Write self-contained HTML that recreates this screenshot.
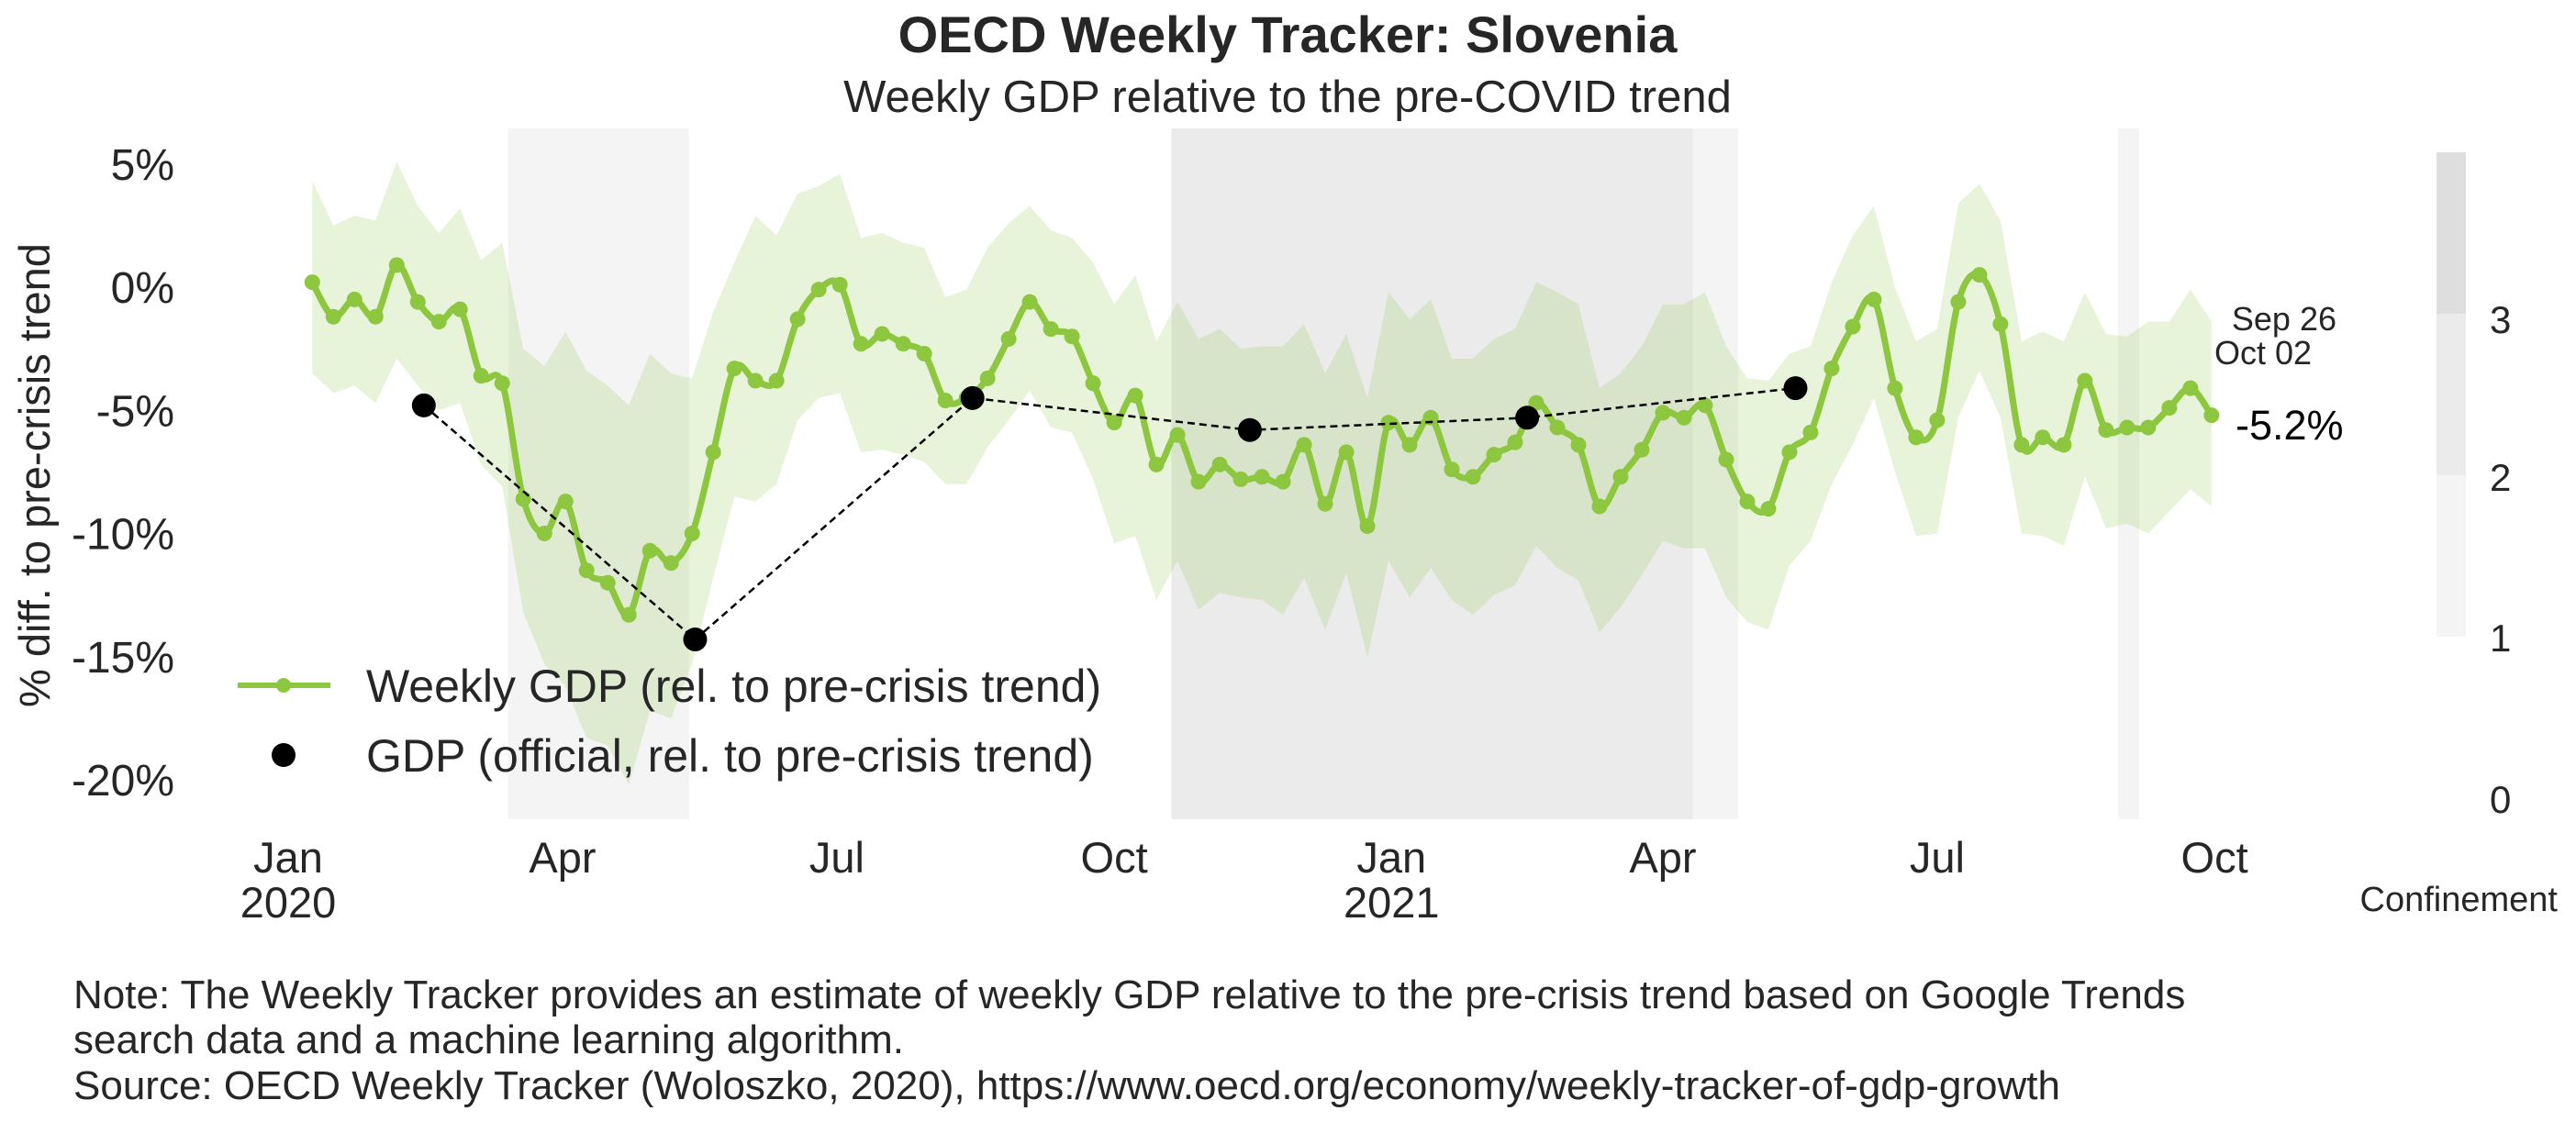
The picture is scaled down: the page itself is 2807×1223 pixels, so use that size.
<!DOCTYPE html>
<html><head><meta charset="utf-8"><style>
html,body{margin:0;padding:0;background:#fff;}
svg{display:block;font-family:"Liberation Sans",Arial,sans-serif;}
</style></head><body>
<svg id="chart" width="2807" height="1223" viewBox="0 0 2807 1223" xmlns="http://www.w3.org/2000/svg">
<g id="bg"></g>
<g id="band"></g>
<g id="lines"></g>
<g id="axes"></g>
<text x="1403" y="57" text-anchor="middle" font-size="56" font-weight="bold" fill="#262626">OECD Weekly Tracker: Slovenia</text>
<text x="1403" y="122" text-anchor="middle" font-size="49" fill="#262626">Weekly GDP relative to the pre-COVID trend</text>
<text transform="translate(54,518) rotate(-90)" text-anchor="middle" font-size="47" fill="#262626">% diff. to pre-crisis trend</text>
<g>
<g>
<line x1="259" y1="747" x2="360" y2="747" stroke="#8dc63f" stroke-width="6"/>
<circle cx="309" cy="747" r="8" fill="#8dc63f"/>
<text x="399" y="765" font-size="50" fill="#262626">Weekly GDP (rel. to pre-crisis trend)</text>
</g>
<g>
<circle cx="309" cy="823" r="13" fill="#000"/>
<text x="399" y="841" font-size="50" fill="#262626">GDP (official, rel. to pre-crisis trend)</text>
</g>
</g>
<text x="2546" y="360" text-anchor="end" font-size="36" fill="#262626">Sep 26</text>
<text x="2519" y="397" text-anchor="end" font-size="36" fill="#262626">Oct 02</text>
<text x="2436" y="479" font-size="45" fill="#000">-5.2%</text>
<g>
<rect x="2655" y="166" width="32" height="176" fill="#dedede"/>
<rect x="2655" y="342" width="32" height="176" fill="#ebebeb"/>
<rect x="2655" y="518" width="32" height="176" fill="#f4f4f4"/>
<text x="2713" y="363" font-size="42" fill="#262626">3</text>
<text x="2713" y="535" font-size="42" fill="#262626">2</text>
<text x="2713" y="710" font-size="42" fill="#262626">1</text>
<text x="2713" y="886" font-size="42" fill="#262626">0</text>
<text x="2787" y="993" text-anchor="end" font-size="38" fill="#262626">Confinement</text>
</g>
<g font-size="44" fill="#262626">
<text x="80" y="1099">Note: The Weekly Tracker provides an estimate of weekly GDP relative to the pre-crisis trend based on Google Trends</text>
<text x="80" y="1148">search data and a machine learning algorithm.</text>
<text x="80" y="1198">Source: OECD Weekly Tracker (Woloszko, 2020), https://www.oecd.org/economy/weekly-tracker-of-gdp-growth</text>
</g>
</svg>
<script>
const weeklyValues = [0.2,-1.2,-0.5,-1.2,0.9,-0.6,-1.4,-0.9,-3.6,-3.9,-8.6,-10.0,-8.7,-11.5,-12.0,-13.3,-10.7,-11.2,-10.0,-6.7,-3.3,-3.8,-3.8,-1.3,-0.1,0.1,-2.3,-1.9,-2.3,-2.7,-4.6,-4.5,-3.7,-2.1,-0.6,-1.7,-2.0,-3.9,-5.5,-4.4,-7.2,-6.0,-7.9,-7.2,-7.8,-7.7,-7.9,-6.4,-8.8,-6.7,-9.7,-5.5,-6.4,-5.3,-7.4,-7.7,-6.8,-6.3,-4.7,-5.7,-6.4,-8.9,-7.7,-6.6,-5.1,-5.3,-4.8,-7.0,-8.7,-9.0,-6.7,-5.9,-3.3,-1.6,-0.5,-4.1,-6.1,-5.4,-0.6,0.5,-1.5,-6.4,-6.1,-6.4,-3.8,-5.8,-5.7,-5.7,-4.9,-4.1,-5.2];
const upperBand = [4.3,2.5,2.9,2.7,5.1,3.3,2.2,3.2,1.1,1.8,-2.5,-3.2,-1.8,-3.4,-4.0,-4.8,-2.7,-3.5,-3.7,-1.0,1.0,2.9,2.1,3.8,4.1,4.6,2.0,2.2,1.8,1.6,-0.4,-0.1,1.6,2.6,3.3,2.3,2.0,1.0,-0.7,0.5,-2.2,-0.6,-2.1,-1.7,-2.5,-2.4,-2.4,-1.5,-3.5,-1.9,-4.5,-0.2,-1.3,-0.5,-2.9,-2.9,-2.1,-1.7,0.2,-0.2,-0.7,-4.1,-3.5,-2.4,-0.7,-0.7,-0.2,-2.4,-3.7,-3.8,-2.7,-2.4,0.2,2.1,3.3,0.0,-2.2,-1.7,3.4,4.2,2.7,-2.2,-1.8,-2.2,-0.2,-1.9,-2.0,-1.4,-1.4,-0.1,-1.4];
const lowerBand = [-3.5,-4.3,-4.0,-4.7,-2.9,-4.0,-5.0,-4.7,-7.2,-8.1,-13.2,-15.3,-16.2,-18.3,-18.6,-20.2,-17.2,-17.5,-15.3,-11.8,-8.5,-8.7,-8.0,-5.4,-4.5,-4.3,-6.7,-6.6,-6.8,-7.1,-8.0,-8.0,-6.5,-5.4,-4.2,-5.7,-5.9,-7.8,-10.4,-10.1,-12.7,-11.1,-13.1,-12.4,-12.6,-12.7,-13.3,-11.8,-13.9,-11.6,-15.0,-11.1,-12.6,-11.4,-12.7,-13.3,-12.5,-12.1,-10.5,-11.4,-11.9,-14.0,-13.0,-11.7,-10.3,-10.6,-10.6,-12.6,-13.6,-13.9,-11.3,-10.3,-8.0,-6.4,-4.5,-7.5,-10.1,-10.0,-5.3,-3.4,-5.3,-10.0,-10.1,-10.5,-7.7,-9.8,-9.6,-10.0,-9.1,-8.2,-8.9];
const officialDates = ["2020-02-15","2020-05-15","2020-08-15","2020-11-15","2021-02-15","2021-05-15"];
const officialValues = [-4.8,-14.3,-4.5,-5.8,-5.3,-4.1];
const confinementStarts = ["2020-03-14","2020-10-20","2021-04-11","2021-08-30"];
const confinementEnds = ["2020-05-13","2021-04-11","2021-04-26","2021-09-06"];
const confinementLevels = [1,2,1,1];
const yTicks = [5,0,-5,-10,-15,-20];
const yTickLabels = ["5%","0%","-5%","-10%","-15%","-20%"];
const xTickDates = ["2020-01-01","2020-04-01","2020-07-01","2020-10-01","2021-01-01","2021-04-01","2021-07-01","2021-10-01"];
const xTickLabels = ["Jan","Apr","Jul","Oct","Jan","Apr","Jul","Oct"];
const xTickYears = ["2020","","","","2021","","",""];
const firstWeek = "2020-01-09";

const NS = "http://www.w3.org/2000/svg";
const T0 = Date.UTC(2020,0,1);
function dayOf(s){const p=s.split("-");return (Date.UTC(+p[0],+p[1]-1,+p[2])-T0)/86400000;}
function xs(d){return 314 + d*3.285;}
function ys(v){return 313 - v*26.85;}
function mk(tag, attrs, parent){const e=document.createElementNS(NS,tag);for(const k in attrs)e.setAttribute(k,attrs[k]);parent.appendChild(e);return e;}
const PT=140, PB=893;
const bg=document.getElementById('bg'), band=document.getElementById('band'), lines=document.getElementById('lines'), axes=document.getElementById('axes');
const levelColors={1:"#f4f4f4",2:"#ebebeb",3:"#dedede"};
for(let i=0;i<confinementStarts.length;i++){
  const x1=xs(dayOf(confinementStarts[i])), x2=xs(dayOf(confinementEnds[i]));
  const r=mk('rect',{x:x1,y:PT,width:x2-x1,height:PB-PT,fill:levelColors[confinementLevels[i]]},bg);
  
  
}
const wd0=dayOf(firstWeek);
const wx=weeklyValues.map((v,i)=>xs(wd0+7*i));
let bp="M"+wx[0]+","+ys(upperBand[0]);
for(let i=1;i<wx.length;i++) bp+=" L"+wx[i]+","+ys(upperBand[i]);
for(let i=wx.length-1;i>=0;i--) bp+=" L"+wx[i]+","+ys(lowerBand[i]);
bp+="Z";
const bpath=mk('path',{d:bp,fill:"rgba(141,198,63,0.2)"},band);


const pts=wx.map((x,i)=>[x,ys(weeklyValues[i])]);
let d="M"+pts[0][0]+","+pts[0][1];
for(let i=0;i<pts.length-1;i++){
  const p0=pts[Math.max(0,i-1)],p1=pts[i],p2=pts[i+1],p3=pts[Math.min(pts.length-1,i+2)];
  const c1=[p1[0]+(p2[0]-p0[0])/6,p1[1]+(p2[1]-p0[1])/6];
  const c2=[p2[0]-(p3[0]-p1[0])/6,p2[1]-(p3[1]-p1[1])/6];
  d+=" C"+c1[0]+","+c1[1]+" "+c2[0]+","+c2[1]+" "+p2[0]+","+p2[1];
}
const wl=mk('path',{d:d,fill:"none",stroke:"#8dc63f","stroke-width":7,"stroke-linejoin":"round"},lines);


pts.forEach(p=>{
  const c=mk('circle',{cx:p[0],cy:p[1],r:8.5,fill:"#8dc63f"},lines);
  
  
});
const op=officialDates.map((s,i)=>[xs(dayOf(s)),ys(officialValues[i])]);
const ol=mk('polyline',{points:op.map(p=>p.join(",")).join(" "),fill:"none",stroke:"#000","stroke-width":2.5,"stroke-dasharray":"8,5"},lines);


op.forEach(p=>{
  const c=mk('circle',{cx:p[0],cy:p[1],r:13,fill:"#000"},lines);
  
  
});
yTicks.forEach((v,i)=>{
  const t=mk('text',{x:190,y:ys(v)+17,"text-anchor":"end","font-size":48,fill:"#262626"},axes);
  t.textContent=yTickLabels[i];
  
  
});
xTickDates.forEach((s,i)=>{
  const x=xs(dayOf(s));
  const t=mk('text',{x:x,y:951,"text-anchor":"middle","font-size":47,fill:"#262626"},axes);
  t.textContent=xTickLabels[i];
  
  
  if(xTickYears[i]){
    const y=mk('text',{x:x,y:1000,"text-anchor":"middle","font-size":47,fill:"#262626"},axes);
    y.textContent=xTickYears[i];
    
    
  }
});
</script>
</body></html>
